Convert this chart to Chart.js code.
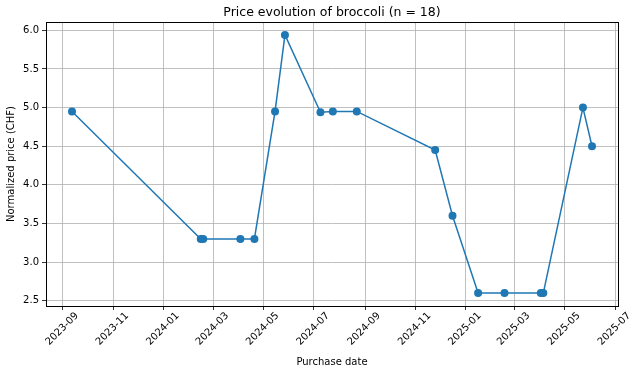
<!DOCTYPE html>
<html>
<head>
<meta charset="utf-8">
<script src="https://cdn.jsdelivr.net/npm/chart.js@4.4.1/dist/chart.umd.min.js"></script>
<style>
html,body{margin:0;padding:0;background:#fff;}
#wrap{width:640px;height:373px;position:relative;}
</style>
</head>
<body>
<div id="wrap"><canvas id="c" width="640" height="373"></canvas></div>
<script>
const purchaseDates = ["2023-09-12","2024-02-15","2024-02-18","2024-04-03","2024-04-20","2024-05-15","2024-05-27","2024-07-09","2024-07-24","2024-08-22","2024-11-25","2024-12-16","2025-01-16","2025-02-17","2025-04-02","2025-04-05","2025-05-23","2025-06-03"];
const prices = [4.95,3.3,3.3,3.3,3.3,4.95,5.94,4.94,4.95,4.95,4.45,3.6,2.6,2.6,2.6,2.6,5.0,4.5];
const xTickLabels = ["2023-09","2023-11","2024-01","2024-03","2024-05","2024-07","2024-09","2024-11","2025-01","2025-03","2025-05","2025-07"];
const yTickValues = [2.5,3.0,3.5,4.0,4.5,5.0,5.5,6.0];
const titleText = "Price evolution of broccoli (n = 18)";
const xTitle = "Purchase date";
const yTitle = "Normalized price (CHF)";

function toTs(s){const p=s.split("-").map(Number);return Date.UTC(p[0],p[1]-1,p[2]||1);}
function fmt(v){const d=new Date(v);return d.getUTCFullYear()+"-"+String(d.getUTCMonth()+1).padStart(2,"0");}

const points = purchaseDates.map((d,i)=>({x:toTs(d),y:prices[i]}));
const xs = points.map(p=>p.x), ys = prices;
const xMinD=Math.min(...xs), xMaxD=Math.max(...xs), xm=(xMaxD-xMinD)*0.05;
const yMinD=Math.min(...ys), yMaxD=Math.max(...ys), ym=(yMaxD-yMinD)*0.05;

const FONT = "'DejaVu Sans', sans-serif";

const frame = {
  id:'frame',
  afterDraw(chart){
    const a=chart.chartArea, ctx=chart.ctx;
    ctx.save();
    ctx.strokeStyle='#000';ctx.lineWidth=1;
    ctx.strokeRect(Math.round(a.left)+0.5,Math.round(a.top)+0.5,Math.round(a.right-a.left),Math.round(a.bottom-a.top));
    ctx.fillStyle='#000';
    ctx.font="12.5px "+FONT;
    ctx.textAlign='center';ctx.textBaseline='middle';
    ctx.fillText(titleText,(a.left+a.right)/2,12.5);
    ctx.restore();
  }
};

new Chart(document.getElementById('c'),{
  type:'line',
  data:{datasets:[{
    data:points,
    borderColor:'#1f77b4',
    backgroundColor:'#1f77b4',
    borderWidth:1.5,
    pointRadius:4,
    pointHoverRadius:4,
    pointBorderWidth:0,
    tension:0,
    fill:false
  }]},
  options:{
    responsive:false,
    animation:false,
    events:[],
    layout:{padding:{left:0,right:22,top:22,bottom:0}},
    plugins:{
      legend:{display:false},
      tooltip:{enabled:false},
      title:{display:false}
    },
    scales:{
      x:{
        type:'linear',
        min:xMinD-xm, max:xMaxD+xm,
        afterBuildTicks(s){s.ticks=xTickLabels.map(l=>({value:toTs(l)}));},
        afterFit(s){s.height=67;},
        ticks:{color:'#000',font:{family:FONT,size:10},minRotation:45,maxRotation:45,autoSkip:false,labelOffset:14,padding:0,
          callback:(v)=>fmt(v)},
        grid:{color:'#b0b0b0',lineWidth:0.8,tickColor:'#000',tickLength:4,drawTicks:true},
        border:{display:true,color:'#000',width:1},
        title:{display:true,text:xTitle,color:'#000',font:{family:FONT,size:10},padding:{top:0,bottom:5}}
      },
      y:{
        type:'linear',
        min:yMinD-ym, max:yMaxD+ym,
        afterBuildTicks(s){s.ticks=yTickValues.map(v=>({value:v}));},
        afterFit(s){s.width=46;},
        ticks:{color:'#000',font:{family:FONT,size:10},padding:3,callback:(v)=>Number(v).toFixed(1)},
        grid:{color:'#b0b0b0',lineWidth:0.8,tickColor:'#000',tickLength:4},
        border:{display:true,color:'#000',width:1},
        title:{display:true,text:yTitle,color:'#000',font:{family:FONT,size:10},padding:{top:5,bottom:2}}
      }
    }
  },
  plugins:[frame]
});
</script>
</body>
</html>
